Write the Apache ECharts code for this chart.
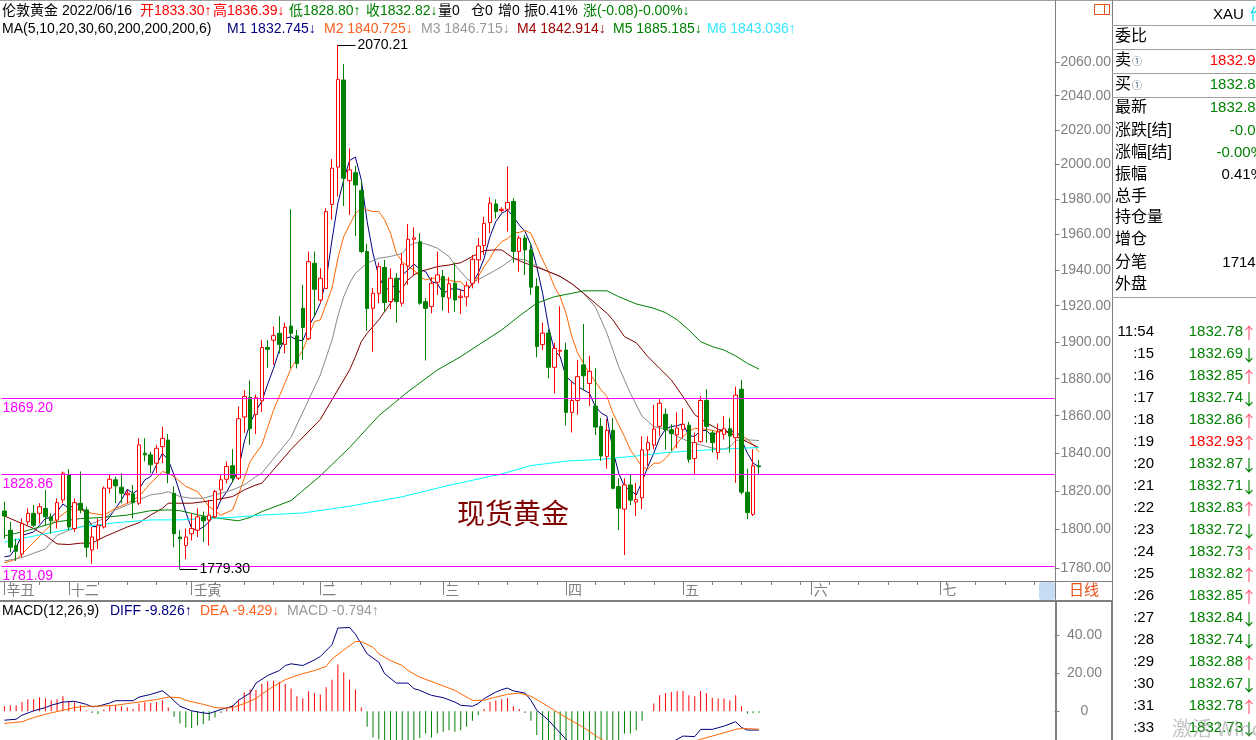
<!DOCTYPE html>
<html>
<head>
<meta charset="utf-8">
<script src="https://cdn.jsdelivr.net/npm/echarts@6/dist/echarts.min.js"></script>
<style>
html, body { margin: 0; padding: 0; background: #fff; }
#main { width: 1256px; height: 740px; }
</style>
</head>
<body>
<div id="main"></div>
<script>
// K线数据 (开/收/低/高)
var candleOpen = [1809.5,1799.5,1791.6,1787.2,1803.9,1808.3,1808.3,1810.9,1806.5,1804.8,
  1815.3,1828.5,1800.4,1813.6,1810.1,1789.3,1794.6,1801.2,1821.5,1825.9,
  1822.0,1818.0,1818.5,1813.6,1840.0,1839.1,1834.7,1843.5,1847.0,1818.8,
  1796.0,1791.6,1797.7,1799.5,1806.5,1804.8,1806.5,1820.6,1826.2,1833.3,
  1826.8,1859.3,1869.9,1860.7,1868.0,1897.0,1901.0,1904.8,1898.7,1908.8,
  1903.4,1918.6,1901.8,1943.7,1923.2,1929.6,1977.0,1998.4,2049.3,1990.6,
  1995.2,1984.9,1950.3,1918.6,1926.9,1941.4,1922.3,1935.3,1921.4,1942.2,
  1957.2,1955.8,1922.3,1919.6,1933.1,1936.3,1924.3,1932.5,1924.5,1924.9,
  1932.5,1945.6,1953.7,1966.7,1977.3,1973.5,1974.2,1978.7,1950.3,1957.9,
  1951.2,1930.7,1898.6,1904.9,1886.2,1895.0,1895.6,1861.8,1868.2,1887.5,
  1877.4,1865.2,1854.3,1838.2,1852.2,1822.3,1810.5,1823.2,1814.2,1816.4,
  1841.7,1844.3,1854.3,1860.8,1852.5,1849.8,1852.5,1854.9,1837.2,1846.1,
  1868.2,1850.8,1840.3,1850.0,1853.0,1848.2,1874.3,1819.4,1807.8,1833.30];
var candleClose = [1806.9,1790.7,1788.6,1803.0,1808.3,1802.1,1811.8,1806.5,1804.4,1813.9,
  1829.4,1801.2,1813.9,1810.1,1790.7,1796.0,1802.1,1821.5,1826.2,1822.7,
  1818.8,1818.8,1813.9,1844.4,1839.1,1833.8,1842.6,1847.9,1829.4,1797.7,
  1795.1,1796.0,1800.4,1806.5,1804.4,1807.4,1819.7,1825.9,1832.9,1826.8,
  1858.4,1870.4,1853.1,1869.7,1897.0,1896.0,1903.5,1898.7,1908.1,1904.8,
  1888.2,1908.0,1944.6,1929.1,1935.3,1972.9,1997.8,2049.7,1992.0,1996.8,
  1988.1,1950.3,1918.5,1926.9,1941.8,1921.8,1935.3,1922.3,1943.2,1957.2,
  1958.0,1921.4,1918.6,1932.5,1937.2,1924.9,1932.2,1923.2,1925.3,1931.1,
  1945.9,1953.4,1966.2,1977.7,1972.9,1974.2,1978.1,1950.3,1957.9,1951.2,
  1930.3,1897.5,1904.9,1886.2,1896.5,1895.4,1861.8,1868.2,1881.1,1881.6,
  1884.0,1853.9,1838.5,1852.2,1821.4,1811.0,1823.2,1815.2,1815.5,1841.7,
  1845.6,1852.9,1866.7,1852.5,1850.4,1853.4,1855.4,1836.7,1845.6,1868.2,
  1854.3,1845.6,1851.3,1853.0,1849.1,1871.1,1819.4,1808.7,1833.3,1832.82];
var candleLow = [1795.1,1788.0,1783.6,1785.4,1802.1,1801.2,1803.0,1802.1,1797.7,1800.4,
  1813.6,1799.5,1798.6,1808.3,1785.4,1782.2,1789.8,1800.4,1818.8,1813.6,
  1813.6,1813.6,1805.6,1812.7,1835.6,1829.4,1829.4,1834.7,1824.1,1790.7,
  1779.3,1784.5,1794.2,1796.0,1793.4,1791.6,1805.6,1815.3,1824.1,1824.3,
  1825.9,1850.9,1844.4,1850.2,1862.0,1886.0,1887.5,1893.8,1893.8,1885.6,
  1885.6,1890.2,1901.1,1913.9,1921.4,1929.6,1968.3,1981.5,1976.1,1971.0,
  1959.0,1949.3,1906.2,1894.7,1921.4,1916.8,1918.1,1910.6,1919.6,1931.6,
  1937.1,1920.5,1889.9,1915.8,1926.0,1917.3,1916.0,1916.6,1915.3,1919.6,
  1929.7,1932.5,1948.4,1960.6,1969.0,1972.4,1961.5,1944.0,1939.0,1937.1,
  1926.0,1891.6,1895.6,1880.2,1872.1,1892.0,1854.8,1851.0,1860.5,1873.9,
  1865.2,1849.6,1836.0,1831.8,1820.9,1799.6,1786.7,1812.6,1806.9,1810.5,
  1833.2,1842.1,1849.0,1841.9,1841.3,1842.6,1848.2,1835.0,1828.9,1845.6,
  1845.6,1840.3,1836.7,1847.3,1840.3,1824.3,1818.2,1805.3,1806.9,1828.80];
var candleHigh = [1814.4,1803.9,1795.1,1805.6,1810.9,1812.7,1813.6,1820.6,1808.3,1816.2,
  1830.3,1831.5,1816.2,1830.3,1811.8,1801.2,1805.6,1822.4,1828.5,1827.6,
  1829.4,1820.6,1823.2,1847.9,1847.9,1840.8,1844.4,1854.0,1850.2,1822.4,
  1799.5,1800.4,1808.3,1810.9,1809.2,1815.3,1820.6,1828.5,1835.6,1842.1,
  1864.9,1873.8,1879.0,1871.4,1901.0,1901.0,1908.5,1914.2,1910.6,1974.2,
  1906.6,1931.6,1950.3,1950.3,1940.9,1974.8,2003.0,2070.21,2058.8,2009.3,
  1999.1,1991.1,1954.7,1929.8,1944.0,1945.6,1940.9,1938.1,1949.3,1965.8,
  1964.0,1960.6,1924.2,1935.9,1950.3,1939.9,1935.9,1944.0,1928.8,1933.4,
  1948.4,1958.0,1970.0,1981.0,1979.9,1975.4,1998.7,1980.5,1959.2,1959.7,
  1955.0,1935.3,1910.7,1907.0,1899.6,1919.7,1899.6,1878.4,1890.2,1909.9,
  1892.4,1885.6,1858.8,1858.2,1858.8,1826.7,1826.7,1828.5,1824.3,1849.0,
  1849.0,1865.8,1868.9,1863.9,1855.4,1861.8,1863.9,1856.7,1850.8,1870.7,
  1874.3,1852.2,1855.8,1859.9,1858.8,1875.7,1879.3,1831.8,1842.1,1836.39];

// 均线 (从图上读取, [序号, 值])
var ma5 = [1785.7,1786.3,1790.7,1796.8,1797.7,1798.6,1802.1,1805.6,1806.2,1809.2,
  1813.2,1810.9,1812.7,1813.6,1806.5,1801.6,1801.2,1803.0,1806.5,1810.9,
  1815.3,1820.9,1818.8,1820.9,1825.9,1827.6,1833.8,1839.9,1836.4,1828.5,
  1819.0,1809.0,1800.4,1799.5,1801.2,1803.9,1808.3,1815.3,1819.7,1825.0,
  1831.2,1846.1,1855.8,1862.8,1867.7,1877.0,1885.6,1895.6,1902.0,1902.9,
  1901.1,1900.7,1908.5,1914.3,1921.4,1934.4,1956.9,1977.7,1991.1,2002.2,
  2004.2,1991.1,1967.2,1949.3,1936.3,1929.8,1928.8,1932.5,1937.1,1939.9,
  1943.3,1940.3,1939.0,1933.4,1932.5,1926.9,1928.8,1929.8,1928.8,1927.8,
  1932.5,1938.1,1946.5,1958.7,1967.2,1971.9,1973.8,1970.0,1965.3,1961.6,
  1954.1,1941.8,1926.9,1908.5,1895.6,1892.0,1881.1,1878.4,1875.7,1873.9,
  1872.1,1865.0,1861.5,1859.7,1841.7,1829.4,1822.3,1820.5,1817.9,1825.0,
  1832.9,1840.0,1848.0,1852.8,1854.2,1854.6,1855.7,1849.3,1848.9,1852.1,
  1852.1,1848.9,1851.5,1852.8,1850.7,1852.8,1847.1,1840.0,1834.7,1832.7];
var ma10 = [[0,1782.7],[2,1784.5],[3,1787.2],[5,1793.3],[7,1799.5],[9,1805.6],[11,1810.1],[13,1810.1],[15,1808.3],[17,1807.4],
  [19,1810.9],[21,1813.6],[23,1817.1],[25,1824.1],[27,1830.3],[28,1829.4],[29,1827.6],[31,1822.4],[33,1819.7],[35,1811.8],
  [37,1807.4],[39,1810.1],[40,1818.0],[41,1826.8],[42,1835.6],[44,1844.4],[46,1863.0],[48,1878.0],[49,1885.6],[51,1895.6],
  [53,1911.2],[54,1912.2],[56,1929.8],[57,1946.5],[58,1958.7],[59,1965.3],[60,1971.9],[61,1974.8],[62,1973.8],[63,1972.9],
  [64,1972.9],[65,1968.2],[66,1960.6],[67,1949.3],[68,1944.6],[69,1941.8],[70,1939.9],[71,1936.3],[72,1934.4],[73,1935.3],
  [74,1935.3],[75,1934.4],[76,1934.4],[77,1933.4],[78,1933.4],[79,1929.8],[80,1931.6],[81,1936.3],[82,1941.8],[83,1946.5],
  [84,1952.2],[85,1955.9],[86,1957.5],[87,1960.6],[88,1961.1],[89,1962.2],[90,1960.6],[91,1953.1],[92,1945.6],[93,1939.0],
  [94,1930.7],[95,1925.0],[96,1915.8],[97,1902.9],[98,1893.8],[99,1888.3],[100,1882.8],[101,1878.4],[102,1873.9],[103,1870.3],
  [104,1861.5],[105,1855.2],[106,1848.9],[107,1841.7],[108,1837.2],[109,1832.9],[110,1831.5],[111,1834.7],[112,1834.7],[113,1837.2],
  [114,1840.8],[115,1845.3],[116,1848.9],[117,1851.5],[118,1853.3],[119,1852.8],[120,1852.8],[121,1852.1],[122,1851.5],[123,1851.5],
  [124,1851.0],[125,1850.3],[126,1849.3],[127,1847.5],[128,1844.4],[129,1840.7]];
var ma20 = [[0,1783.6],[3,1785.4],[7,1789.8],[9,1796.8],[11,1799.5],[13,1801.2],[15,1803.0],[17,1805.6],[19,1810.1],[21,1812.7],
  [23,1815.3],[25,1818.0],[27,1818.8],[28,1819.7],[30,1817.1],[32,1816.2],[34,1816.2],[36,1818.0],[39,1820.6],[41,1823.2],
  [43,1827.6],[44,1829.4],[49,1848.5],[54,1882.0],[56,1901.1],[57,1914.3],[58,1925.0],[59,1932.5],[60,1938.1],[62,1943.8],
  [64,1946.5],[66,1947.5],[68,1949.3],[69,1953.1],[70,1955.0],[71,1955.4],[72,1954.6],[74,1952.2],[76,1947.5],[77,1942.7],
  [79,1935.3],[80,1932.9],[82,1936.3],[84,1939.9],[85,1941.8],[87,1946.5],[89,1945.6],[91,1942.2],[93,1939.0],[95,1936.3],
  [97,1932.2],[99,1926.9],[101,1919.5],[103,1904.8],[105,1886.5],[107,1872.1],[109,1859.7],[111,1854.2],[113,1852.8],[115,1848.9],
  [117,1846.2],[119,1844.4],[121,1842.7],[123,1842.1],[124,1843.2],[125,1846.8],[127,1847.1],[129,1846.7]];
var ma30 = [[0,1806.9],[3,1803.0],[5,1800.4],[7,1796.8],[9,1792.4],[11,1792.1],[13,1792.8],[15,1792.8],[17,1796.0],[19,1798.6],
  [21,1801.2],[23,1803.4],[25,1807.4],[27,1810.9],[28,1813.6],[30,1813.6],[32,1813.6],[34,1814.4],[36,1815.3],[39,1817.1],
  [41,1820.6],[43,1823.2],[44,1824.1],[49,1842.0],[54,1858.0],[59,1884.7],[60,1892.0],[61,1900.2],[62,1904.8],[64,1912.2],
  [66,1921.4],[68,1929.8],[69,1934.4],[70,1937.1],[71,1939.0],[72,1939.9],[74,1941.8],[76,1942.7],[78,1944.0],[80,1947.5],
  [82,1950.8],[84,1951.2],[85,1951.2],[87,1946.5],[89,1943.8],[91,1941.5],[93,1939.0],[95,1936.3],[97,1932.2],[99,1926.9],
  [101,1921.4],[103,1915.8],[104,1912.2],[106,1902.9],[108,1899.6],[110,1892.0],[112,1885.6],[114,1879.3],[116,1870.3],[118,1860.6],
  [120,1856.2],[122,1852.8],[124,1850.7],[126,1847.5],[128,1844.4],[129,1842.9]];
var ma60 = [[0,1796.6],[3,1798.6],[7,1802.1],[9,1803.9],[13,1805.6],[17,1806.2],[21,1807.4],[25,1809.7],[28,1810.1],[30,1809.7],
  [32,1808.3],[34,1806.9],[37,1805.6],[40,1804.4],[42,1806.2],[44,1809.2],[49,1815.0],[54,1828.0],[59,1843.0],[64,1860.0],
  [69,1873.0],[74,1884.7],[78,1892.0],[81,1898.3],[85,1906.6],[88,1914.3],[91,1921.4],[94,1925.0],[97,1926.9],[99,1928.3],
  [103,1928.3],[105,1925.0],[108,1921.0],[111,1918.6],[113,1916.2],[115,1912.2],[117,1906.6],[119,1900.2],[121,1897.5],[123,1895.6],
  [125,1892.4],[127,1888.3],[129,1885.2]];
var ma200 = [[0,1793.4],[7,1797.7],[13,1801.2],[19,1803.4],[25,1804.9],[30,1804.9],[34,1805.6],[39,1806.2],[44,1807.4],[51,1808.5],
  [59,1812.0],[68,1817.0],[76,1823.0],[85,1829.0],[90,1833.4],[96,1835.8],[102,1836.7],[108,1838.5],[113,1840.3],[119,1841.5],
  [125,1842.5],[129,1843.0]];

// MACD
var macdBar = [2.6,3.1,3.1,4.8,6.2,6.2,7.3,6.8,5.7,6.2,
  7.8,5.2,4.8,3.1,0.5,-0.9,-1.4,0.9,2.6,3.1,
  2.6,1.9,1.2,4.0,4.7,4.3,4.8,5.7,1.9,-2.9,
  -6.4,-8.5,-8.8,-7.4,-6.8,-5.0,-3.3,-0.9,1.2,3.1,
  6.1,9.9,11.3,11.1,14.4,15.6,15.9,15.4,14.4,11.9,
  7.8,6.8,10.4,9.5,8.8,12.5,16.5,24.4,20.3,16.6,
  11.4,1.9,-8.1,-13.7,-14.7,-16,-17,-17,-16.5,-16,
  -15.5,-14,-11.6,-13.7,-11.6,-10.7,-9.9,-10.7,-9.9,-8.1,
  -5.0,-2.1,1.2,4.8,5.7,6.2,6.9,2.6,1.2,-0.9,
  -5.0,-12.5,-17,-21,-24,-26,-27,-28,-28,-27,
  -26,-24,-22,-20,-18,-16,-11.6,-11.6,-9.9,-5.0,
  0,4.0,8.3,9.5,10.0,10.6,10.6,8.3,7.8,10.6,
  9.5,7.1,6.6,6.6,5.7,8.3,2.6,-1.2,-1.0,-0.794];
var diff = [[0,-4.7],[2,-4.2],[3,-2.1],[5,0.2],[7,1.9],[8,3.1],[10,4.8],[12,5.2],[14,3.6],[15,2.3],
  [16,2.6],[18,4.3],[19,5.5],[22,5.5],[23,7.4],[25,8.8],[27,10.7],[28,8.3],[30,2.6],[32,0.2],
  [34,-0.9],[35,-1.2],[37,0.9],[39,2.6],[40,5.7],[42,9.5],[43,14.7],[45,18.7],[47,21.3],[48,23.9],
  [49,24.8],[51,23.9],[53,26.8],[54,28.6],[56,34.8],[57,43.5],[59,43.8],[60,40.3],[62,30.0],[64,25.6],
  [65,19.6],[67,14.7],[69,14.7],[70,11.8],[71,10.9],[73,8.3],[75,7.1],[77,4.8],[78,3.1],[80,2.6],
  [81,4.0],[82,6.6],[84,10.0],[85,11.3],[86,12.1],[87,10.6],[89,9.5],[90,5.7],[91,0.5],[93,-4.7],
  [94,-8.1],[96,-14.7],[99,-22],[102,-27],[104,-29],[106,-28],[109,-26],[112,-20],[115,-14.7],[116,-13.0],
  [118,-13.3],[119,-9.5],[121,-9.5],[123,-7.8],[125,-5.5],[126,-8.5],[127,-9.9],[129,-9.826]];
var dea = [[0,-6.4],[3,-5.5],[5,-3.3],[7,-1.6],[10,0.5],[12,1.9],[14,2.6],[16,2.6],[19,3.1],[21,4.0],
  [23,4.8],[26,6.1],[28,7.4],[30,7.1],[31,5.7],[34,3.6],[36,1.9],[38,1.6],[39,1.9],[41,4.0],
  [43,6.6],[44,9.0],[46,13.0],[48,16.5],[50,18.7],[51,19.6],[53,21.3],[55,23.4],[56,27.4],[58,32.0],
  [60,36.5],[61,36.4],[63,33.4],[64,30.0],[66,26.5],[68,23.9],[69,21.3],[71,17.8],[74,14.4],[77,10.9],
  [80,5.7],[82,5.7],[84,7.4],[86,8.8],[88,9.5],[90,7.8],[92,4.3],[94,0.5],[96,-3.3],[99,-8.5],
  [102,-14.7],[105,-19.5],[107,-22],[109,-23.5],[112,-22],[115,-19],[117,-16.5],[119,-14.7],[121,-13.0],[123,-11.3],
  [125,-9.5],[126,-9.0],[129,-9.429]];

// 坐标轴
var priceTicks = [1780,1800,1820,1840,1860,1880,1900,1920,1940,1960,1980,2000,2020,2040,2060];
var macdTicks = [0, 20, 40];
var monthStarts = [0, 11, 32, 54, 75, 96, 116, 138, 160];
var monthLabels = ['辛丑','十二','壬寅','二','三','四','五','六','七'];
var refLines = [1869.20, 1828.86, 1781.09];
var lastPrice = 1832.82;

// 右侧报价
var quoteLabels = ['委比','卖','买','最新','涨跌[结]','涨幅[结]','振幅','总手','持仓量','增仓','分笔','外盘'];
var quoteValues = ['','1832.93','1832.82','1832.82','-0.08','-0.00%','0.41%','','','','17148',''];
var quoteColors = ['#000','#ff0000','#008000','#008000','#008000','#008000','#000','#000','#000','#000','#000','#000'];
var tickTimes = ['11:54',':15',':16',':17',':18',':19',':20',':21',':22',':23',':24',':25',':26',':27',':28',':29',':30',':31',':33'];
var tickPrices = ['1832.78','1832.69','1832.85','1832.74','1832.86','1832.93','1832.87','1832.71','1832.83','1832.72',
  '1832.73','1832.82','1832.85','1832.84','1832.74','1832.88','1832.67','1832.78','1832.73'];
var tickDirs = ['↑','↓','↑','↓','↑','↑','↓','↓','↑','↓','↑','↑','↑','↓','↓','↑','↓','↑','↓'];

var FONT = '"Liberation Sans","Noto Sans CJK SC",sans-serif';
var slotCount = 180;
var xCats = [];
for (var i = 0; i < slotCount; i++) xCats.push(String(i));

var kData = candleOpen.map(function (o, i) {
  return [o, candleClose[i], candleLow[i], candleHigh[i]];
});

function txt(x, y, s, color, size, align) {
  return {
    type: 'text', x: x, y: y, silent: true, z: 10,
    style: { text: s, fill: color, font: (size || 14) + 'px ' + FONT, align: align || 'left', verticalAlign: 'middle' }
  };
}
function hline(x1, x2, y, color, w) {
  return { type: 'line', silent: true, z: 5, shape: { x1: x1, y1: y, x2: x2, y2: y }, style: { stroke: color || '#808080', lineWidth: w || 1 } };
}
function vline(x, y1, y2, color, w) {
  return { type: 'line', silent: true, z: 5, shape: { x1: x, y1: y1, x2: x, y2: y2 }, style: { stroke: color || '#808080', lineWidth: w || 1 } };
}

var graphics = [
  hline(0, 1256, 0.5, '#a0a0a0'),
  vline(1055.5, 0, 600, '#808080'),
  vline(1112.5, 0, 740, '#808080'),
  hline(0, 1112, 581.5, '#808080'),
  hline(0, 1113, 601, '#808080', 2),
  vline(1056, 600, 740, '#808080', 2),
  vline(1112, 600, 740, '#808080', 2),
  hline(1112, 1256, 25.5, '#a0a0a0'),
  hline(1112, 1256, 49.5, '#a0a0a0'),
  hline(1112, 1256, 73.5, '#a0a0a0'),
  hline(1112, 1256, 97.5, '#a0a0a0'),
  hline(1112, 1256, 297.5, '#a0a0a0'),
  { type: 'rect', silent: true, shape: { x: 1094.5, y: 4.5, width: 15, height: 10 }, style: { fill: 'none', stroke: '#e0521e', lineWidth: 1 } },
  vline(1104.5, 4.5, 14.5, '#e0521e'),
  { type: 'rect', silent: true, shape: { x: 1039, y: 582, width: 16, height: 18, r: 3 }, style: { fill: '#c6dcf4' } },
  txt(1084, 591, '日线', '#e8501a', 15, 'center'),

  // 标题行
  txt(2, 11, '伦敦黄金', '#000'),
  txt(62, 11, '2022/06/16', '#000'),
  txt(140, 11, '开1833.30↑', '#ff0000'),
  txt(213, 11, '高1836.39↓', '#ff0000'),
  txt(289, 11, '低1828.80↑', '#008000'),
  txt(366, 11, '收1832.82↓', '#008000'),
  txt(438, 11, '量0', '#000'),
  txt(471, 11, '仓0', '#000'),
  txt(498, 11, '增0', '#000'),
  txt(524, 11, '振0.41%', '#000'),
  txt(583, 11, '涨(-0.08)-0.00%↓', '#008000'),
  txt(2, 29, 'MA(5,10,20,30,60,200,200,200,6)', '#000'),
  txt(227, 29, 'M1 1832.745↓', '#000080'),
  txt(324, 29, 'M2 1840.725↓', '#ff6020'),
  txt(421, 29, 'M3 1846.715↓', '#999999'),
  txt(517, 29, 'M4 1842.914↓', '#a00000'),
  txt(613, 29, 'M5 1885.185↓', '#008000'),
  txt(707, 29, 'M6 1843.036↑', '#33e6ff'),
  txt(2, 611, 'MACD(12,26,9)', '#000'),
  txt(110, 611, 'DIFF -9.826↑', '#000080'),
  txt(200, 611, 'DEA -9.429↓', '#ff6020'),
  txt(287, 611, 'MACD -0.794↑', '#999999'),

  { type: 'text', x: 457, y: 513, silent: true, z: 10,
    style: { text: '现货黄金', fill: '#800000', font: '28px "Noto Sans CJK SC",sans-serif', verticalAlign: 'middle' } },

  txt(1213, 15, 'XAU', '#000', 15),
  txt(1250, 15, '伦敦金', '#00d8e8', 15)
];

var quoteY = [37, 61, 85, 108, 131, 153, 175, 197, 218, 240, 263, 285];
quoteLabels.forEach(function (lab, i) {
  graphics.push(txt(1115, quoteY[i], lab, '#000', 16));
  if (lab === '卖' || lab === '买') graphics.push(txt(1132, quoteY[i] + 1, '①', '#405070', 10));
  if (quoteValues[i]) graphics.push(txt(1264, quoteY[i], quoteValues[i], quoteColors[i], 15, 'right'));
});
tickTimes.forEach(function (t, i) {
  var y = 331.5 + i * 22;
  graphics.push(txt(1154, y, t, '#000', 15, 'right'));
  graphics.push(txt(1243, y, tickPrices[i], tickPrices[i] === '1832.93' ? '#ff0000' : '#008000', 15, 'right'));
  graphics.push({
    type: 'text', x: 1241, y: y + 1, silent: true, z: 10,
    style: { text: tickDirs[i], fill: tickDirs[i] === '↑' ? '#ff5a78' : '#008000',
      font: '16px "Noto Sans CJK SC",sans-serif', align: 'left', verticalAlign: 'middle' }
  });
});
graphics.push({ type: 'text', x: 1172, y: 728, silent: true, z: 20,
  style: { text: '激活 Windows', fill: 'rgba(150,150,150,0.55)', font: '20px "Noto Sans CJK SC",sans-serif', verticalAlign: 'middle' } });

function maLine(name, data, color) {
  return {
    name: name, type: 'line', xAxisIndex: 0, yAxisIndex: 0, data: data,
    showSymbol: false, symbol: 'none', silent: true,
    lineStyle: { color: color, width: 1 }, z: 3
  };
}

var chart = echarts.init(document.getElementById('main'), null, { renderer: 'canvas' });
chart.setOption({
  animation: false,
  backgroundColor: '#ffffff',
  textStyle: { fontFamily: FONT },
  grid: [
    { left: 1.5, right: 201.5, top: 20, bottom: 159 },
    { left: 1.5, right: 201.5, top: 601, bottom: 0 }
  ],
  xAxis: [
    {
      type: 'category', gridIndex: 0, position: 'bottom', data: xCats, boundaryGap: true,
      axisLine: { show: false },
      axisTick: {
        show: true, alignWithLabel: true, length: 14,
        interval: function (idx) { return monthStarts.indexOf(idx) >= 0; },
        lineStyle: { color: '#808080' }
      },
      axisLabel: {
        show: true, align: 'left', margin: 3, padding: [0, 0, 0, 2],
        color: '#808080', fontSize: 14,
        interval: function (idx) { return monthStarts.indexOf(idx) >= 0; },
        formatter: function (v, idx) {
          var m = monthStarts.indexOf(Number(v));
          return m >= 0 ? monthLabels[m] : '';
        }
      },
      splitLine: { show: false }
    },
    {
      type: 'category', gridIndex: 0, position: 'bottom', offset: 0, data: xCats, boundaryGap: true,
      axisLine: { show: false },
      axisTick: {
        show: true, alignWithLabel: true, length: 4,
        interval: function (idx) { return idx % 5 === 1; },
        lineStyle: { color: '#808080' }
      },
      axisLabel: { show: false },
      splitLine: { show: false }
    },
    {
      type: 'category', gridIndex: 1, position: 'bottom', data: xCats, boundaryGap: true,
      axisLine: { show: false }, axisTick: { show: false }, axisLabel: { show: false }, splitLine: { show: false }
    }
  ],
  yAxis: [
    {
      type: 'log', logBase: 10, gridIndex: 0, position: 'right',
      min: 1773.33, max: 2085.1,
      axisLine: { show: false },
      axisTick: { show: true, length: 5, customValues: priceTicks, lineStyle: { color: '#808080' } },
      axisLabel: {
        show: true, customValues: priceTicks, margin: 6, color: '#808080', fontSize: 14,
        formatter: function (v) { return Number(v).toFixed(2); }
      },
      splitLine: { show: false }
    },
    {
      type: 'value', gridIndex: 1, position: 'right',
      min: -15.06, max: 57.66,
      axisLine: { show: false },
      axisTick: { show: true, length: 5, customValues: macdTicks, lineStyle: { color: '#808080' } },
      axisLabel: {
        show: true, customValues: macdTicks, margin: 30, align: 'center', color: '#808080', fontSize: 14,
        formatter: function (v) { return v === 0 ? '0' : Number(v).toFixed(2); }
      },
      splitLine: { show: false }
    }
  ],
  series: [
    {
      name: 'K', type: 'candlestick', xAxisIndex: 0, yAxisIndex: 0,
      data: kData, barWidth: 4, z: 4,
      itemStyle: {
        color: '#ffffff', color0: '#008000',
        borderColor: '#ff0000', borderColor0: '#008000', borderColorDoji: '#ff0000', borderWidth: 1
      },
      markLine: {
        symbol: 'none', silent: true, animation: false,
        data: refLines.map(function (v) {
          return {
            yAxis: v,
            lineStyle: { color: '#ff00ff', width: 1, type: 'solid' },
            label: { show: true, position: 'insideStartBottom', distance: [1, 3], formatter: v.toFixed(2), color: '#ff00ff', fontSize: 14, fontFamily: FONT }
          };
        }).concat([
          {
            yAxis: lastPrice,
            lineStyle: { opacity: 0 },
            label: { show: true, position: 'end', distance: 3, formatter: lastPrice.toFixed(2), color: '#ff0000',
              backgroundColor: '#eef5e8', padding: [1, 1, 0, 1], fontSize: 14, fontFamily: FONT }
          },
          [
            { coord: [57, 2070.21], lineStyle: { color: '#000000', width: 1, type: 'solid' },
              label: { show: true, position: 'end', distance: 2, formatter: '2070.21', color: '#000', fontSize: 14, fontFamily: FONT } },
            { coord: [60, 2070.21] }
          ],
          [
            { coord: [30, 1779.30], lineStyle: { color: '#000000', width: 1, type: 'solid' },
              label: { show: true, position: 'end', distance: 2, formatter: '1779.30', color: '#000', fontSize: 14, fontFamily: FONT,
                padding: [0, 0, 15, 0] } },
            { coord: [33, 1779.30] }
          ]
        ])
      }
    },
    maLine('MA5', ma5, '#000080'),
    maLine('MA10', ma10, '#ff6600'),
    maLine('MA20', ma20, '#888888'),
    maLine('MA30', ma30, '#800000'),
    maLine('MA60', ma60, '#008000'),
    maLine('MA200', ma200, '#00ffff'),
    {
      name: 'MACD', type: 'bar', xAxisIndex: 2, yAxisIndex: 1, data: macdBar, barWidth: 1, silent: true,
      itemStyle: { color: function (p) { return p.value >= 0 ? '#ff0000' : '#008000'; } }
    },
    {
      name: 'DIFF', type: 'line', xAxisIndex: 2, yAxisIndex: 1, data: diff, showSymbol: false, symbol: 'none', silent: true,
      lineStyle: { color: '#000080', width: 1 }
    },
    {
      name: 'DEA', type: 'line', xAxisIndex: 2, yAxisIndex: 1, data: dea, showSymbol: false, symbol: 'none', silent: true,
      lineStyle: { color: '#ff6600', width: 1 }
    }
  ],
  graphic: graphics
});
</script>
</body>
</html>
